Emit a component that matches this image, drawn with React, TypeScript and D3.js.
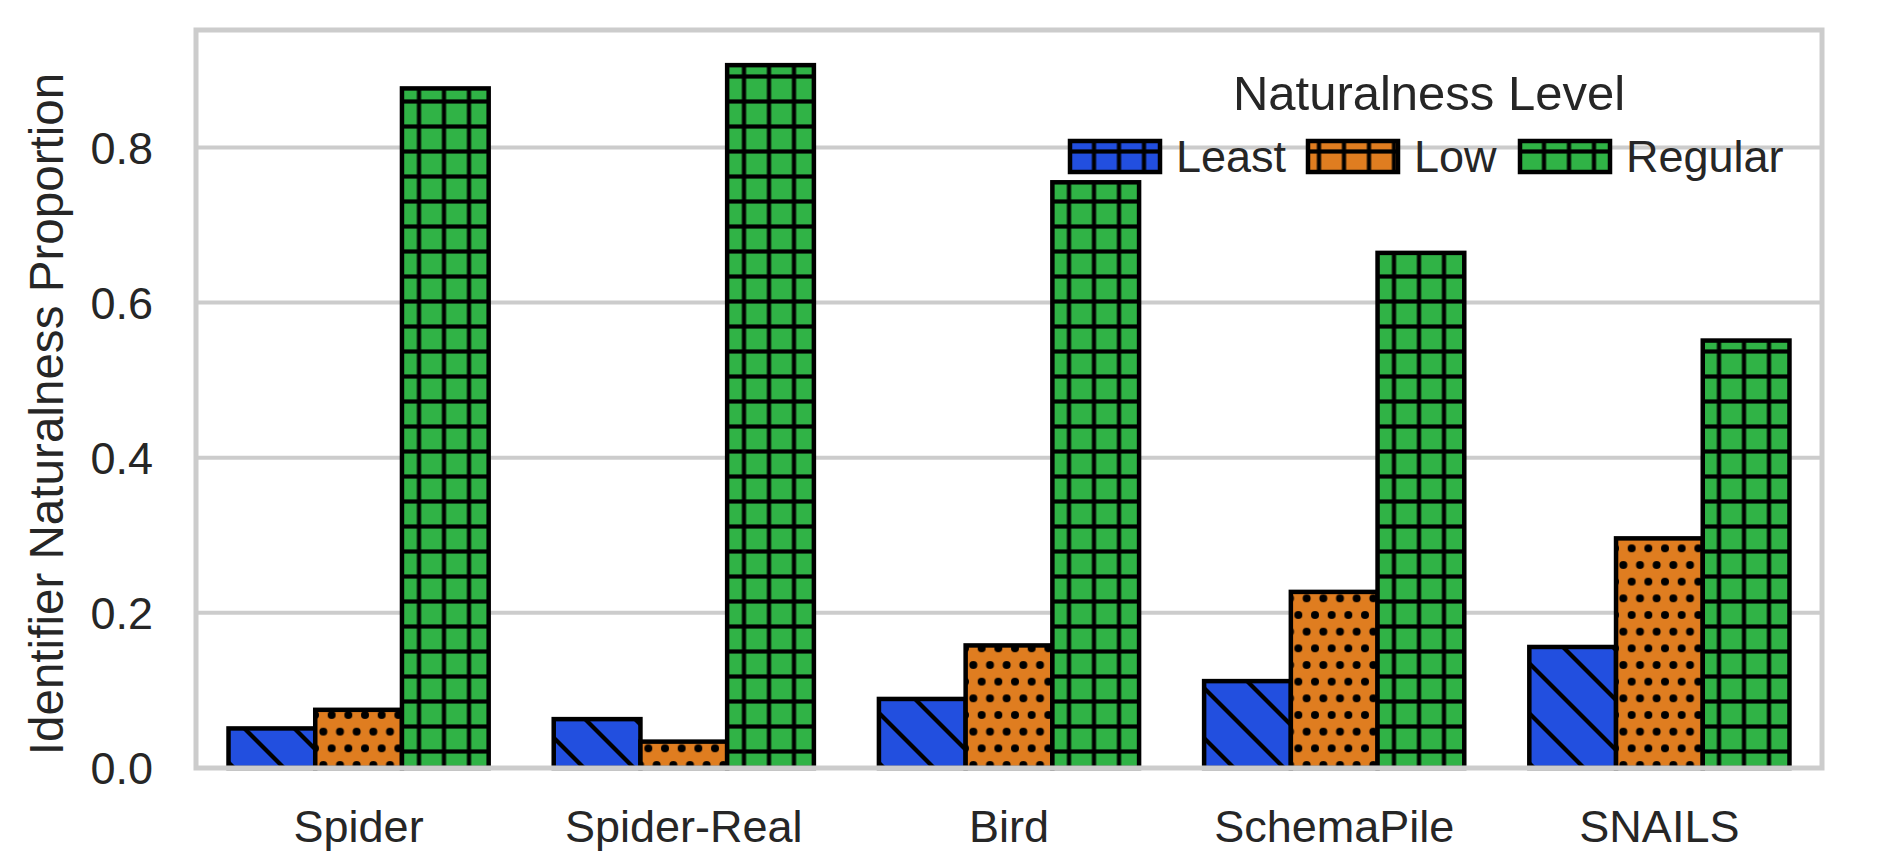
import React, { useEffect } from 'react';
import * as d3 from 'd3';

const categories = ['Spider', 'Spider-Real', 'Bird', 'SchemaPile', 'SNAILS'];
const levels = ['Least', 'Low', 'Regular'];
const leastValues = [0.051, 0.063, 0.089, 0.112, 0.156];
const lowValues = [0.075, 0.034, 0.158, 0.227, 0.296];
const regularValues = [0.876, 0.906, 0.755, 0.664, 0.551];
const yTicks = [0, 0.2, 0.4, 0.6, 0.8];

const seriesValues = [leastValues, lowValues, regularValues];
const colors = ['#224fdf', '#df7d20', '#30b346'];
const hatchIds = ['hatch-diag', 'hatch-dots', 'hatch-grid'];

const W = 1878;
const H = 854;
const left = 196;
const right = 1822;
const top = 30;
const bottom = 768;

const font = '"Liberation Sans", Arial, sans-serif';
const textColor = '#262626';
const gridColor = '#cccccc';

export default function App() {
  useEffect(() => {
    document.body.style.margin = '0';
  }, []);

  const x = d3.scaleBand<string>().domain(categories).range([left, right]);
  const bw = x.bandwidth();
  const xSub = d3.scaleBand<string>().domain(levels).range([0, bw * 0.8]);
  const yMax = (d3.max(seriesValues.flat()) as number) * 1.05;
  const y = d3.scaleLinear().domain([0, yMax]).range([bottom, top]);

  // legend layout (patch x, label x)
  const legendItems = [
    { px: 1070, tx: 1176 },
    { px: 1308, tx: 1414 },
    { px: 1520, tx: 1626 },
  ];

  return (
    <svg width={W} height={H} style={{ display: 'block' }}>
      <defs>
        <pattern id="hatch-diag" patternUnits="userSpaceOnUse" x={16} y={0} width={50} height={50}>
          <g stroke="#000" strokeWidth={4.2}>
            <line x1={-5} y1={-5} x2={55} y2={55} />
            <line x1={25} y1={-25} x2={75} y2={25} />
            <line x1={-25} y1={25} x2={25} y2={75} />
          </g>
        </pattern>
        <pattern id="hatch-dots" patternUnits="userSpaceOnUse" x={15} y={15} width={50 / 3} height={100 / 3}>
          <g fill="#000">
            <circle cx={0} cy={0} r={4} />
            <circle cx={50 / 3} cy={0} r={4} />
            <circle cx={0} cy={100 / 3} r={4} />
            <circle cx={50 / 3} cy={100 / 3} r={4} />
            <circle cx={25 / 3} cy={50 / 3} r={4} />
          </g>
        </pattern>
        <pattern id="hatch-grid" patternUnits="userSpaceOnUse" x={6.5} y={-11} width={25} height={25}>
          <g stroke="#000" strokeWidth={4.2}>
            <line x1={12.5} y1={0} x2={12.5} y2={25} />
            <line x1={0} y1={12.5} x2={25} y2={12.5} />
          </g>
        </pattern>
      </defs>

      <rect x={0} y={0} width={W} height={H} fill="#fff" />

      {/* grid */}
      {yTicks.map((t) => (
        <line key={t} x1={left} x2={right} y1={y(t)} y2={y(t)} stroke={gridColor} strokeWidth={4} />
      ))}

      {/* bars */}
      {seriesValues.map((vals, si) =>
        vals.map((v, ci) => {
          const bx = (x(categories[ci]) as number) + bw * 0.1 + (xSub(levels[si]) as number);
          const by = y(v);
          const bh = y(0) - by;
          const w = xSub.bandwidth();
          return (
            <g key={`${si}-${ci}`}>
              <rect x={bx} y={by} width={w} height={bh} fill={colors[si]} />
              <rect x={bx} y={by} width={w} height={bh} fill={`url(#${hatchIds[si]})`} />
              <rect x={bx} y={by} width={w} height={bh} fill="none" stroke="#000" strokeWidth={4.5} />
            </g>
          );
        })
      )}

      {/* spines */}
      <rect x={left} y={top} width={right - left} height={bottom - top} fill="none" stroke={gridColor} strokeWidth={5} />

      {/* y ticks */}
      {yTicks.map((t) => (
        <text
          key={t}
          x={153}
          y={y(t)}
          dy="0.36em"
          textAnchor="end"
          fontFamily={font}
          fontSize={45}
          fill={textColor}
        >
          {t.toFixed(1)}
        </text>
      ))}

      {/* x ticks */}
      {categories.map((c) => (
        <text
          key={c}
          x={(x(c) as number) + bw / 2}
          y={842}
          textAnchor="middle"
          fontFamily={font}
          fontSize={45}
          fill={textColor}
        >
          {c}
        </text>
      ))}

      {/* y label */}
      <text
        transform={`translate(63, 414) rotate(-90)`}
        textAnchor="middle"
        fontFamily={font}
        fontSize={47.6}
        fill={textColor}
      >
        Identifier Naturalness Proportion
      </text>

      {/* legend */}
      <text x={1429} y={110} textAnchor="middle" fontFamily={font} fontSize={49} fill={textColor}>
        Naturalness Level
      </text>
      {levels.map((l, i) => (
        <g key={l}>
          <rect x={legendItems[i].px} y={141} width={90} height={31} fill={colors[i]} />
          <rect x={legendItems[i].px} y={141} width={90} height={31} fill="url(#hatch-grid)" />
          <rect x={legendItems[i].px} y={141} width={90} height={31} fill="none" stroke="#000" strokeWidth={4.5} />
          <text x={legendItems[i].tx} y={172} fontFamily={font} fontSize={45} fill={textColor}>
            {l}
          </text>
        </g>
      ))}
    </svg>
  );
}
